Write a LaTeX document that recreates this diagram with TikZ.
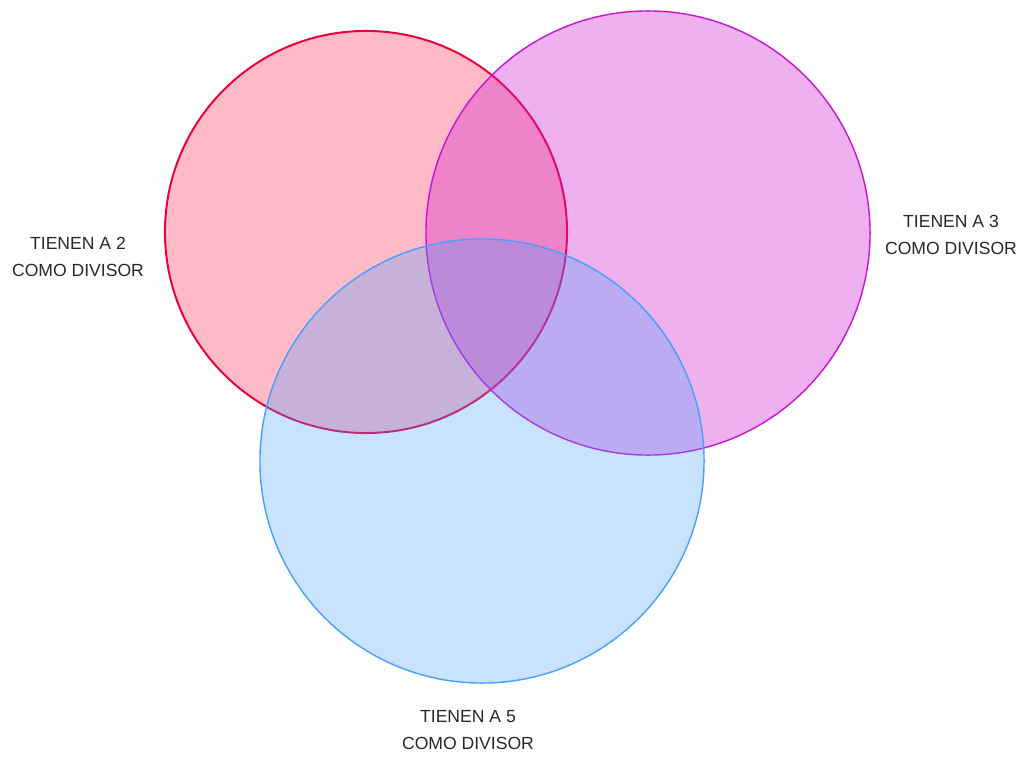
\documentclass[tikz,border=0pt]{standalone}
\usepackage{fontspec}
\setmainfont{Liberation Sans}
\usetikzlibrary{positioning}
\definecolor{rojo}{RGB}{232,0,60}
\definecolor{rojofill}{RGB}{255,40,80}
\definecolor{magenta3}{RGB}{200,20,210}
\definecolor{magentafill}{RGB}{206,30,206}
\definecolor{azul}{RGB}{70,160,255}
\definecolor{azulfill}{RGB}{72,158,255}
\definecolor{texto}{RGB}{40,40,40}

\tikzset{
  conjunto/.style={circle, inner sep=0pt, fill opacity=0.32},
  etiqueta/.style={align=center, text=texto, font=\fontsize{12.5}{19.5}\selectfont}
}

\begin{document}
\begin{tikzpicture}[x=0.025cm, y=-0.025cm]
	\useasboundingbox (0,0) rectangle (1024,756);
	\node[conjunto, draw=rojo, line width=1.4pt, fill=rojofill, minimum size=10.05cm] (dos) at (366,232) {};
	\node[conjunto, draw=magenta3, line width=1pt, fill=magentafill, fill opacity=0.35, minimum size=11.1cm] (tres) at (648,233) {};
	\node[conjunto, draw=azul, line width=1pt, fill=azulfill, fill opacity=0.3, minimum size=11.1cm] (cinco) at (482,461) {};
	\node[etiqueta] (ldos) at (78,257) {TIENEN A 2\\COMO DIVISOR};
	\node[etiqueta] (ltres) at (951,235) {TIENEN A 3\\COMO DIVISOR};
	\node[etiqueta] (lcinco) at (468,730) {TIENEN A 5\\COMO DIVISOR};
\end{tikzpicture}
\end{document}
